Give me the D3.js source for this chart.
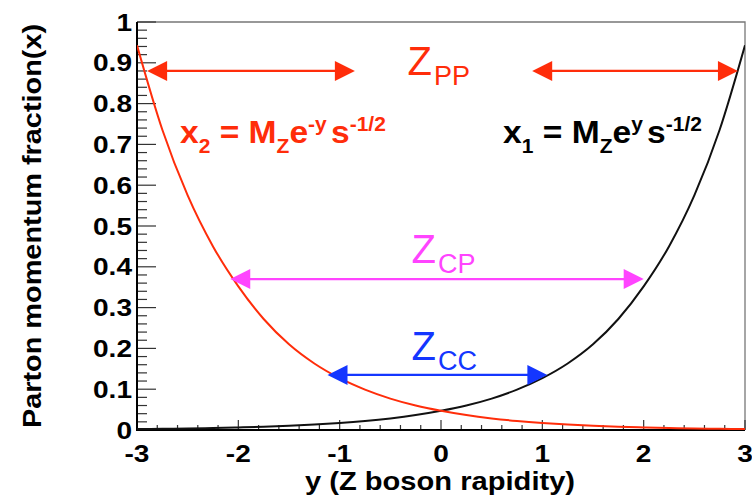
<!DOCTYPE html>
<html>
<head>
<meta charset="utf-8">
<script src="https://cdn.jsdelivr.net/npm/d3@7"></script>
<style>
  body { margin: 0; background: #fff; }
  svg { display: block; }
  text { font-family: "Liberation Sans", Arial, Helvetica, sans-serif; }
</style>
</head>
<body>
<div id="chart"></div>
<script>
// rapidity samples (x axis) and the two parton momentum fractions
var rapidity = [-3, -2.75, -2.5, -2.25, -2, -1.75, -1.5, -1.25, -1, -0.75, -0.5, -0.25, 0,
                0.25, 0.5, 0.75, 1, 1.25, 1.5, 1.75, 2, 2.25, 2.5, 2.75, 3];
var x1Vals = [0.0023, 0.003, 0.0038, 0.0049, 0.0063, 0.0081, 0.0104, 0.0134, 0.0172, 0.0221, 0.0284, 0.0365, 0.047,
              0.060, 0.077, 0.099, 0.127, 0.163, 0.210, 0.272, 0.352, 0.450, 0.575, 0.736, 0.943];
var x2Vals = x1Vals.slice().reverse();

// axis ticks
var xTicks = [-3, -2, -1, 0, 1, 2, 3];
var yTicks = [0, 0.1, 0.2, 0.3, 0.4, 0.5, 0.6, 0.7, 0.8, 0.9, 1];
var yTickLabels = ["0", "0.1", "0.2", "0.3", "0.4", "0.5", "0.6", "0.7", "0.8", "0.9", "1"];

// double headed arrows (in data units)
var arrowFrom = [-2.9, 0.9, -2.08, -1.12];
var arrowTo = [-0.85, 2.93, 2.0, 1.05];
var arrowAt = [0.88, 0.88, 0.37, 0.135];

var red = "#ff2d0a", magenta = "#ff44ff", blue = "#1436ff";
var arrowColors = [red, red, magenta, blue];

var width = 752, height = 500;
var margin = {top: 22, right: 7, bottom: 70, left: 137};

var svg = d3.select("#chart").append("svg")
    .attr("width", width)
    .attr("height", height);

var xScale = d3.scaleLinear().domain([-3, 3]).range([margin.left, width - margin.right]);
var yScale = d3.scaleLinear().domain([0, 1]).range([height - margin.bottom, margin.top]);

var x0 = xScale(-3), x1 = xScale(3), y0 = yScale(0), yTop = yScale(1);

//frame: top and right grey
svg.append("path")
    .attr("d", `M${x0},${yTop}H${x1}V${y0}`)
    .attr("fill", "none").attr("stroke", "#777").attr("stroke-width", 1.3);

//y axis ticks (inside, pointing right)
var yMinor = d3.range(0, 1.0001, 0.02);
svg.append("g").selectAll("line")
    .data(yMinor)
    .enter().append("line")
    .attr("x1", x0)
    .attr("x2", (d, i) => x0 + (i % 5 === 0 ? 19 : 10))
    .attr("y1", d => yScale(d)).attr("y2", d => yScale(d))
    .attr("stroke", "#333").attr("stroke-width", 1.2);

//x axis ticks (inside, pointing up)
var xMinor = d3.range(-3, 3.0001, 0.2);
svg.append("g").selectAll("line")
    .data(xMinor)
    .enter().append("line")
    .attr("x1", d => xScale(d)).attr("x2", d => xScale(d))
    .attr("y1", y0)
    .attr("y2", (d, i) => y0 - (i % 5 === 0 ? 10 : 5))
    .attr("stroke", "#333").attr("stroke-width", 1.2);

//main axis lines
svg.append("path")
    .attr("d", `M${x0},${yTop}V${y0}H${x1}`)
    .attr("fill", "none").attr("stroke", "#000").attr("stroke-width", 2);

//helper for horizontally stretched text
function stretched(x, y, sx, anchor, txt, size, rotate) {
    return svg.append("text")
        .attr("transform", `translate(${x},${y})` + (rotate ? " rotate(-90)" : "") + ` scale(${sx},1)`)
        .attr("text-anchor", anchor)
        .attr("font-size", size)
        .attr("font-weight", "bold")
        .text(txt);
}

//tick labels
yTicks.forEach((d, i) => {
    stretched(132, yScale(d) + 8.5, 1.17, "end", yTickLabels[i], 24);
});
xTicks.forEach(d => {
    stretched(xScale(d), 462, 1.17, "middle", String(d), 24);
});

//axis titles
stretched(440, 490, 1.12, "middle", "y (Z boson rapidity)", 26);
stretched(41, 226, 1.09, "middle", "Parton momentum fraction(x)", 26.5, true);

//curves
var line = d3.line()
    .x((d, i) => xScale(rapidity[i]))
    .y(d => yScale(d))
    .curve(d3.curveMonotoneX);

var clip = svg.append("clipPath").attr("id", "plotclip")
    .append("rect").attr("x", x0).attr("y", yTop).attr("width", x1 - x0).attr("height", y0 - yTop);

svg.append("path").datum(x1Vals)
    .attr("d", line).attr("fill", "none")
    .attr("stroke", "#111").attr("stroke-width", 2)
    .attr("clip-path", "url(#plotclip)");
svg.append("path").datum(x2Vals)
    .attr("d", line).attr("fill", "none")
    .attr("stroke", red).attr("stroke-width", 2)
    .attr("clip-path", "url(#plotclip)");

//arrows
var headLen = 20, headHalf = 10;
arrowAt.forEach((v, i) => {
    var xa = xScale(arrowFrom[i]), xb = xScale(arrowTo[i]), yy = yScale(v);
    var g = svg.append("g");
    g.append("line")
        .attr("x1", xa + headLen - 2).attr("x2", xb - headLen + 2)
        .attr("y1", yy).attr("y2", yy)
        .attr("stroke", arrowColors[i]).attr("stroke-width", 2.2);
    g.append("path")
        .attr("d", `M${xa},${yy}L${xa + headLen},${yy - headHalf}L${xa + headLen},${yy + headHalf}Z`)
        .attr("fill", arrowColors[i]);
    g.append("path")
        .attr("d", `M${xb},${yy}L${xb - headLen},${yy - headHalf}L${xb - headLen},${yy + headHalf}Z`)
        .attr("fill", arrowColors[i]);
});

//Z labels with subscripts
function zLabel(xv, yv, sub, color) {
    var t = svg.append("text")
        .attr("x", xScale(xv)).attr("y", yScale(yv))
        .attr("fill", color);
    t.append("tspan").attr("font-size", 40).text("Z");
    t.append("tspan").attr("font-size", 27).attr("dx", 2).attr("dy", 10).text(sub);
}
zLabel(-0.33, 0.870, "PP", red);
zLabel(-0.29, 0.409, "CP", magenta);
zLabel(-0.29, 0.1716, "CC", blue);

//formula labels
function formula(xv, yv, idx, expo, color) {
    var t = svg.append("text")
        .attr("transform", `translate(${xScale(xv)},${yScale(yv)}) scale(1.05,1)`)
        .attr("fill", color)
        .attr("font-weight", "bold");
    t.append("tspan").attr("font-size", 32).text("x");
    t.append("tspan").attr("font-size", 20).attr("dy", 10).text(idx);
    t.append("tspan").attr("font-size", 32).attr("dy", -10).text("\u00a0=\u00a0M");
    t.append("tspan").attr("font-size", 20).attr("dy", 10).text("Z");
    t.append("tspan").attr("font-size", 32).attr("dy", -10).text("e");
    t.append("tspan").attr("font-size", 20).attr("dy", -12).text(expo);
    t.append("tspan").attr("font-size", 32).attr("dy", 12).attr("dx", 4).text("s");
    t.append("tspan").attr("font-size", 20).attr("dy", -12).text("-1/2");
}
formula(-2.576, 0.703, "2", "-y", red);
formula(0.612, 0.703, "1", "y", "#000");
</script>
</body>
</html>
